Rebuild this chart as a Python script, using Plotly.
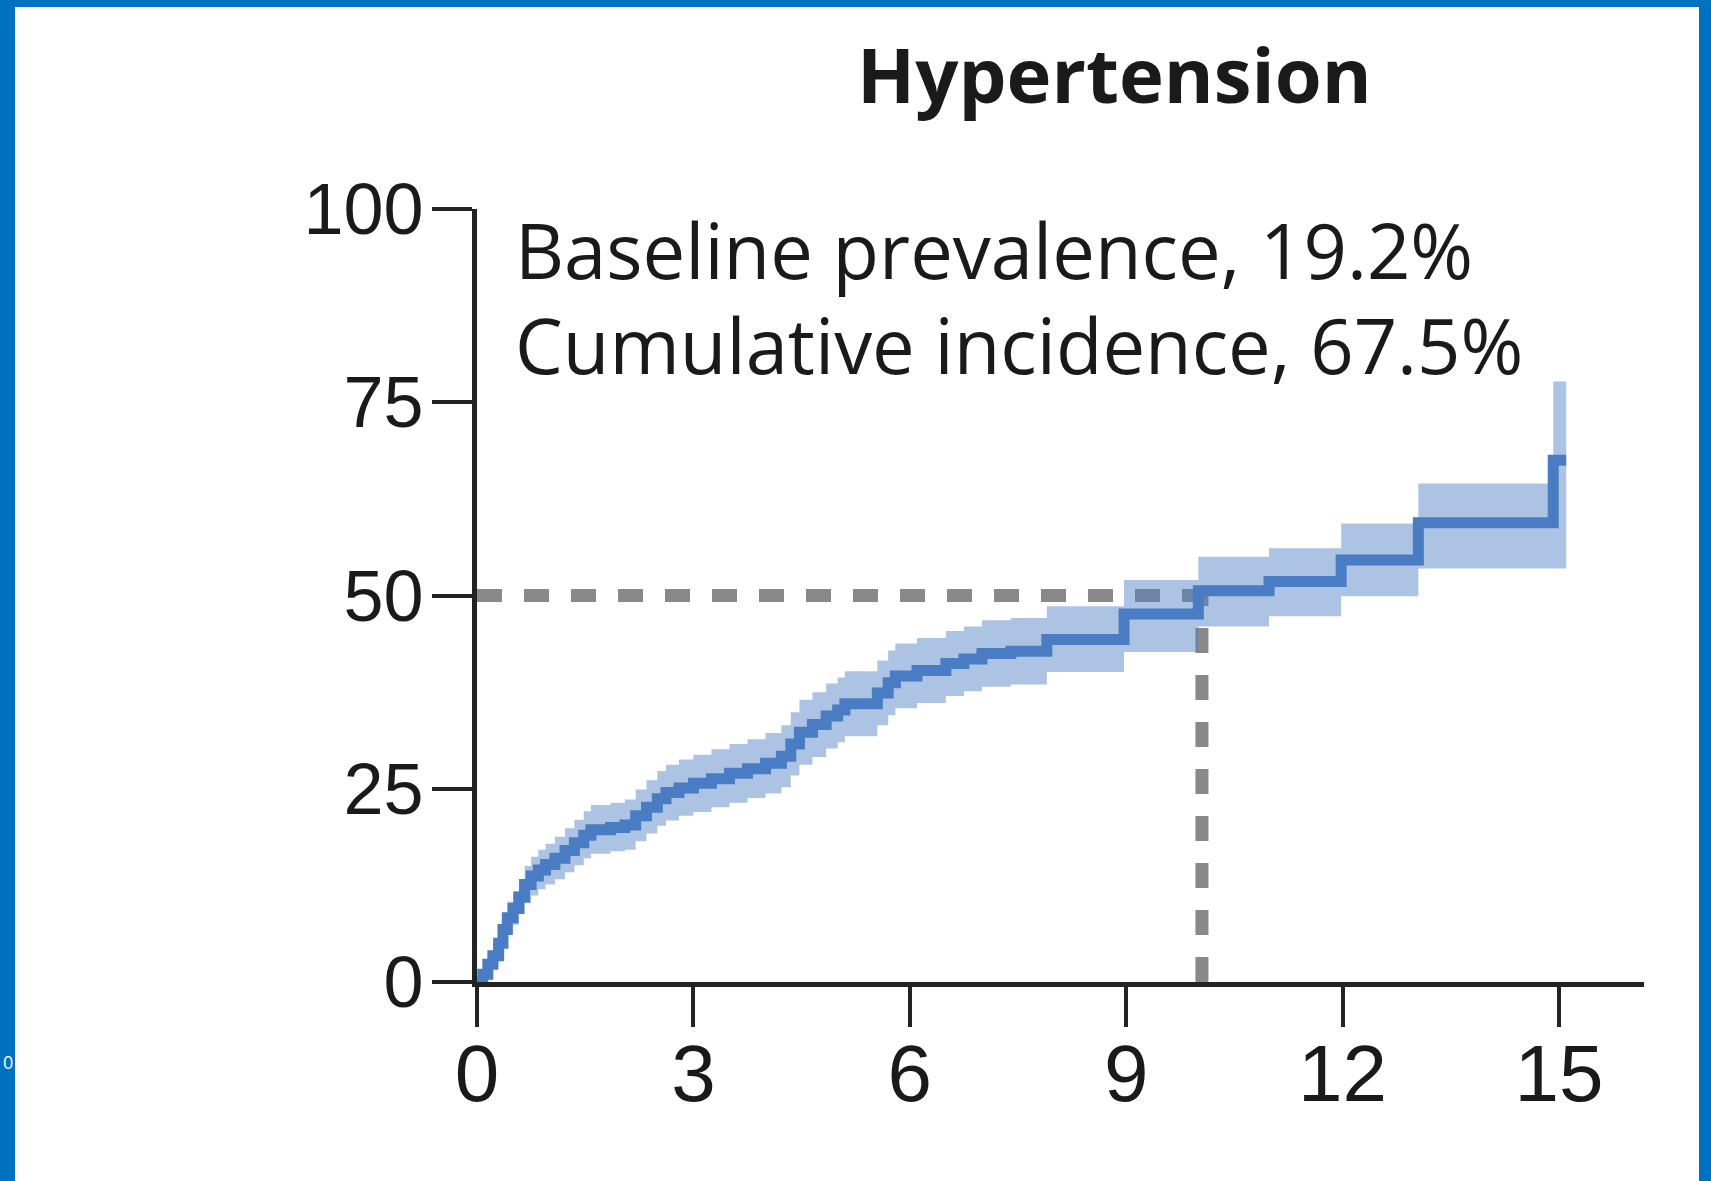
import plotly.graph_objects as go

# Cumulative incidence of hypertension (%), step function over follow-up (years)
years = [0.00, 0.08, 0.15, 0.22, 0.30, 0.36, 0.42, 0.50, 0.58, 0.66, 0.75, 0.85,
         0.95, 1.08, 1.22, 1.35, 1.48, 1.58, 1.85, 2.05, 2.20, 2.35, 2.50, 2.62,
         2.80, 3.00, 3.25, 3.50, 3.75, 4.00, 4.22, 4.35, 4.47, 4.65, 4.84, 5.00,
         5.10, 5.55, 5.70, 5.80, 6.10, 6.50, 6.75, 7.00, 7.40, 7.90, 8.97, 10.00,
         10.98, 11.98, 13.05, 14.92, 15.10]
incidence = [0.0, 1.0, 2.3, 3.4, 5.0, 6.8, 8.3, 9.5, 11.0, 12.6, 13.7, 14.5,
             15.2, 16.0, 17.0, 18.0, 19.0, 19.7, 20.0, 20.3, 21.5, 22.6, 23.7, 24.5,
             25.1, 25.7, 26.3, 27.0, 27.6, 28.3, 29.2, 30.8, 32.3, 33.3, 34.4, 35.2,
             36.0, 37.4, 38.7, 39.6, 40.3, 41.2, 41.8, 42.5, 42.8, 44.3, 47.6, 50.6,
             51.8, 54.6, 59.4, 67.5, 67.5]
ci_lower = [0.0, 0.2, 1.2, 2.0, 3.4, 5.0, 6.3, 7.4, 8.8, 10.2, 11.2, 12.0,
            12.6, 13.3, 14.2, 15.1, 16.0, 16.6, 16.9, 17.1, 18.2, 19.2, 20.2, 20.9,
            21.5, 22.0, 22.6, 23.2, 23.8, 24.4, 25.2, 26.7, 28.1, 29.1, 30.2, 31.0,
            31.8, 33.2, 34.5, 35.4, 36.1, 37.0, 37.6, 38.2, 38.5, 40.1, 42.7, 46.0,
            47.3, 49.9, 53.5, 53.5, 53.5]
ci_upper = [0.0, 1.8, 3.5, 4.9, 6.7, 8.7, 10.4, 11.7, 13.3, 15.0, 16.2, 17.1,
            17.9, 18.8, 19.9, 21.0, 22.1, 22.9, 23.2, 23.6, 24.9, 26.1, 27.3, 28.1,
            28.8, 29.4, 30.1, 30.8, 31.4, 32.2, 33.2, 34.9, 36.5, 37.5, 38.6, 39.4,
            40.2, 41.6, 42.9, 43.8, 44.5, 45.4, 46.0, 46.8, 47.1, 48.6, 52.0, 55.0,
            56.1, 59.3, 64.5, 77.7, 77.7]

# Time at which half of the cohort has developed hypertension
half_level = 50
half_time = 10.05

x_ticks = [0, 3, 6, 9, 12, 15]
y_ticks = [0, 25, 50, 75, 100]

title_text = "Hypertension"
note_lines = ["Baseline prevalence, 19.2%", "Cumulative incidence, 67.5%"]

# Canvas and plot-area geometry (pixels)
W, H = 1711, 1181
L, R, T, B = 477, 1644, 209, 982
X_MAX = (R - L) / ((1557 - 475) / 15)

LINE_BLUE = "#4a7cc4"
BAND_BLUE = "rgba(80,128,196,0.47)"
DASH_GRAY = "#898989"
AXIS_DARK = "#232323"
FRAME_BLUE = "#0070c0"
FONT = "Open Sans"
TICK_FONT_Y = "Liberation Sans, Open Sans"
TICK_FONT_X = "Liberation Sans Narrow, Liberation Sans, Open Sans"


def px_x(p):
    return (p - L) / (R - L)


def px_y(p):
    return (B - p) / (B - T)


fig = go.Figure()

# Reference lines marking the 50% point
fig.add_trace(go.Scatter(
    x=[0, half_time], y=[half_level, half_level], mode="lines",
    line=dict(color=DASH_GRAY, width=13, dash="25px,22px"),
    hoverinfo="skip", showlegend=False))
fig.add_trace(go.Scatter(
    x=[half_time, half_time], y=[0, half_level], mode="lines",
    line=dict(color=DASH_GRAY, width=13, dash="25px,22px"),
    hoverinfo="skip", showlegend=False))

# Confidence band
fig.add_trace(go.Scatter(
    x=years, y=ci_lower, mode="lines", line=dict(width=0, shape="hv"),
    hoverinfo="skip", showlegend=False))
fig.add_trace(go.Scatter(
    x=years, y=ci_upper, mode="lines", line=dict(width=0, shape="hv"),
    fill="tonexty", fillcolor=BAND_BLUE, hoverinfo="skip", showlegend=False))

# Cumulative incidence curve
fig.add_trace(go.Scatter(
    x=years, y=incidence, mode="lines",
    line=dict(color=LINE_BLUE, width=11, shape="hv"),
    showlegend=False))

axis_common = dict(
    showgrid=False, zeroline=False, showline=True, linecolor=AXIS_DARK,
    linewidth=5, ticks="outside", ticklen=40, tickwidth=4, tickcolor=AXIS_DARK,
)

fig.update_xaxes(range=[0, X_MAX], tickvals=x_ticks,
                 ticktext=[str(v) for v in x_ticks], ticklabelstandoff=-22,
                 tickfont=dict(family=TICK_FONT_X, size=80, color="#1a1a1a"),
                 **axis_common)
fig.update_yaxes(range=[0, 100], tickvals=y_ticks,
                 ticktext=[str(v) for v in y_ticks], ticklabelstandoff=-6,
                 tickfont=dict(family=TICK_FONT_Y, size=72, color="#1a1a1a"),
                 **axis_common)

annotations = [
    dict(text="<b>" + title_text + "</b>", x=px_x(1114), y=px_y(74),
         xref="paper", yref="paper", xanchor="center", yanchor="middle",
         showarrow=False, font=dict(family=FONT, size=76, color="#1a1a1a")),
    dict(text=note_lines[0], x=px_x(513), y=px_y(249),
         xref="paper", yref="paper", xanchor="left", yanchor="middle",
         showarrow=False, font=dict(family=FONT, size=76, color="#1a1a1a")),
    dict(text=note_lines[1], x=px_x(513), y=px_y(344),
         xref="paper", yref="paper", xanchor="left", yanchor="middle",
         showarrow=False, font=dict(family=FONT, size=76, color="#1a1a1a")),
    dict(text="0", x=px_x(1), y=px_y(1062),
         xref="paper", yref="paper", xanchor="left", yanchor="middle",
         showarrow=False, font=dict(family=FONT, size=18, color="white")),
]

# Blue frame around a white panel
shapes = [
    dict(type="rect", xref="paper", yref="paper", layer="below",
         x0=px_x(15), x1=px_x(1699), y0=px_y(1200), y1=px_y(7),
         fillcolor="white", line=dict(width=0)),
]

fig.update_layout(
    width=W, height=H,
    margin=dict(l=L, r=W - R, t=T, b=H - B, pad=0),
    paper_bgcolor=FRAME_BLUE, plot_bgcolor="rgba(0,0,0,0)",
    annotations=annotations, shapes=shapes,
    font=dict(family=FONT),
)

fig.write_html("out.html")
